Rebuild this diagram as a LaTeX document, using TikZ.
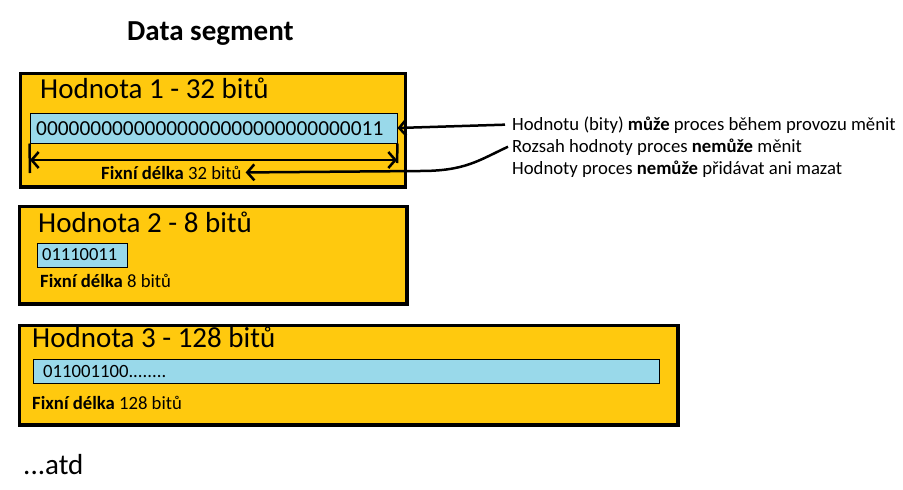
\documentclass[tikz,border=0pt]{standalone}
\usepackage{fontspec}
\setmainfont{Carlito}
\usetikzlibrary{arrows.meta}
\definecolor{gold}{RGB}{255,201,14}
\definecolor{turq}{RGB}{153,217,234}
\tikzset{
	segbox/.style={draw, line width=3.5pt, fill=gold, anchor=north west, inner sep=0pt},
	bitbox/.style={draw, line width=1pt, fill=turq, anchor=north west, inner sep=0pt},
	txt/.style={anchor=base west, inner sep=0pt},
	head/.style={txt, font=\fontsize{29}{31}\selectfont},
	bits/.style={txt, font=\fontsize{21.4}{24}\selectfont},
	small/.style={txt, font=\fontsize{18.7}{20}\selectfont},
	arr/.style={line width=2.5pt, -{Straight Barb[length=7pt,width=16pt]}},
}
\begin{document}
\begin{tikzpicture}[x=1pt, y=-1pt]
			\useasboundingbox (0,0) rectangle (903,490);
			\node	(title) at (127,40) [txt, font=\fontsize{29}{31}\selectfont\bfseries] {Data segment};
			\node	(box1) at (18.75,71.75) [segbox, minimum width=385pt, minimum height=113.5pt] {};
			\node	(box2) at (17.75,204.75) [segbox, minimum width=387.5pt, minimum height=97.5pt] {};
			\node	(box3) at (17.75,323.75) [segbox, minimum width=658.5pt, minimum height=99.5pt] {};
			\node	(bits1) at (29.5,112.5) [bitbox, minimum width=367pt, minimum height=30pt] {};
			\node	(bits2) at (36.5,242.5) [bitbox, minimum width=90pt, minimum height=24pt] {};
			\node	(bits3) at (32.5,358.5) [bitbox, minimum width=626pt, minimum height=24pt] {};
			\node	(head1) at (40,98) [head] {Hodnota 1 - 32 bitů};
			\node	(head2) at (38,232) [head] {Hodnota 2 - 8 bitů};
			\node	(head3) at (32,347) [head] {Hodnota 3 - 128 bitů};
			\node	(val1) at (36,135) [bits] {00000000000000000000000000000011};
			\node	(val2) at (42,260) [bits, font=\fontsize{18.5}{20}\selectfont] {01110011};
			\node	(val3) at (43,377) [small] {011001100........};
			\node	(len1) at (101,179) [small] {\textbf{Fixní délka} 32 bitů};
			\node	(len2) at (40,287) [small] {\textbf{Fixní délka} 8 bitů};
			\node	(len3) at (32,409) [small] {\textbf{Fixní délka} 128 bitů};
			\node	(atd) at (23,474) [head] {...atd};
			\node	(note1) at (512,130) [small] {Hodnotu (bity) \textbf{může} proces během provozu měnit};
			\node	(note2) at (512,152) [small] {Rozsah hodnoty proces \textbf{nemůže} měnit};
			\node	(note3) at (512,174) [small] {Hodnoty proces \textbf{nemůže} přidávat ani mazat};
			\coordinate	(dlb) at (30,173);
			\coordinate	(drb) at (397,163);
			\coordinate	(dl) at (30,160);
			\coordinate	(dr) at (397,160);
			\coordinate	(bend) at (420,171);
			\draw[line width=2.5pt]
			(bits1.south west) -- (dlb)
			(bits1.south east) -- (drb);
			\draw[line width=2.5pt, {Straight Barb[length=7pt,width=16pt]}-{Straight Barb[length=7pt,width=16pt]}] (dl) -- (dr);
			\draw[arr] ([xshift=-7pt]note1.west) -- (bits1.east);
			\draw[arr] ([xshift=-4pt]note2.west) .. controls +(-30,14) and +(45,0) .. (bend) -- ([xshift=4pt]len1.east);
		\end{tikzpicture}
\end{document}
